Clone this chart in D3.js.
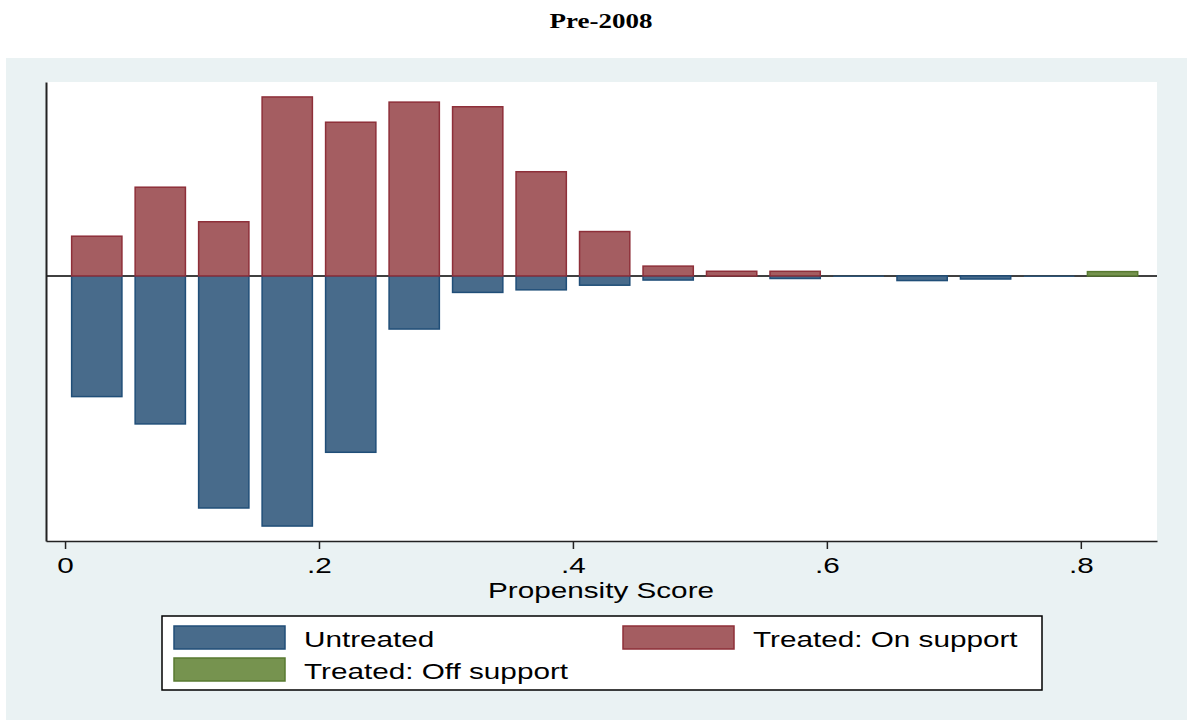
<!DOCTYPE html>
<html>
<head>
<meta charset="utf-8">
<script src="https://cdn.jsdelivr.net/npm/d3@7"></script>
<style>
  body { margin: 0; background: #fff; }
  svg text { font-family: "Liberation Sans", Arial, sans-serif; fill: #000; }
</style>
</head>
<body>
<div id="chart"></div>
<script>
// histogram of propensity scores, treated above the line, untreated below
// bins are 0.05 wide, values are densities read off the picture
const binCenters = [0.025, 0.075, 0.125, 0.175, 0.225, 0.275, 0.325, 0.375, 0.425,
                    0.475, 0.525, 0.575, 0.625, 0.675, 0.725, 0.775, 0.825];
const treatedOn  = [0.77, 1.72, 1.05, 3.47, 2.98, 3.37, 3.28, 2.02, 0.86,
                    0.19, 0.09, 0.09, 0, 0, 0, 0, 0];
const treatedOff = [0, 0, 0, 0, 0, 0, 0, 0, 0,
                    0, 0, 0, 0, 0, 0, 0, 0.083];
const untreated  = [2.34, 2.87, 4.50, 4.85, 3.42, 1.03, 0.32, 0.27, 0.18,
                    0.08, 0, 0.05, 0.015, 0.09, 0.06, 0.015, 0];
const xTicks = [0, 0.2, 0.4, 0.6, 0.8];
const xTickLabels = ["0", ".2", ".4", ".6", ".8"];
const legendLabels = ["Untreated", "Treated: On support", "Treated: Off support"];

const width = 1187, height = 720;
const plot = { left: 46, right: 1157, top: 82, bottom: 541 };
const barW = 0.0396;
const stretch = 1.35; // the original text is drawn wide

const colors = {
  untreated: { fill: "#486b8b", stroke: "#204e78" },
  on:        { fill: "#a45d61", stroke: "#8e2f39" },
  off:       { fill: "#76934f", stroke: "#587a30" }
};

const svg = d3.select("#chart").append("svg")
  .attr("width", width)
  .attr("height", height);

function wideText(g, tx, ty, anchor, size, str) {
  return g.append("text")
    .attr("transform", "translate(" + tx + "," + ty + ") scale(" + stretch + ",1)")
    .attr("text-anchor", anchor)
    .style("font-size", size + "px")
    .text(str);
}

// title
wideText(svg, 601, 28, "middle", 20, "Pre-2008")
  .style("font-family", "'Liberation Serif', 'Times New Roman', serif")
  .style("font-weight", "bold");

// graph region
svg.append("rect")
  .attr("x", 6).attr("y", 58)
  .attr("width", width - 6).attr("height", height - 58)
  .attr("fill", "#eaf2f3");

svg.append("rect")
  .attr("x", plot.left).attr("y", plot.top)
  .attr("width", plot.right - plot.left).attr("height", plot.bottom - plot.top)
  .attr("fill", "#fff");

const x = d3.scaleLinear().domain([-0.015, 0.86]).range([plot.left, plot.right]);
const y = d3.scaleLinear().domain([-5.14, 3.76]).range([plot.bottom, plot.top]);

// zero line
svg.append("line")
  .attr("x1", plot.left).attr("x2", plot.right)
  .attr("y1", y(0)).attr("y2", y(0))
  .attr("stroke", "#000").attr("stroke-width", 1.5);

function drawBars(vals, sign, col) {
  svg.append("g").selectAll("rect")
    .data(vals.map((v, i) => ({ c: binCenters[i], v: v })).filter(d => d.v > 0))
    .enter().append("rect")
    .attr("x", d => x(d.c - barW / 2))
    .attr("width", d => x(d.c + barW / 2) - x(d.c - barW / 2))
    .attr("y", d => sign > 0 ? y(d.v) : y(0))
    .attr("height", d => Math.abs(y(0) - y(d.v)))
    .attr("fill", col.fill)
    .attr("stroke", col.stroke)
    .attr("stroke-width", d => Math.abs(y(0) - y(d.v)) < 2 ? 0.6 : 1.5);
}

drawBars(untreated, -1, colors.untreated);
drawBars(treatedOn, 1, colors.on);
drawBars(treatedOff, 1, colors.off);

// axes
const xAxis = d3.axisBottom(x)
  .tickValues(xTicks)
  .tickFormat((d, i) => xTickLabels[i])
  .tickSize(8)
  .tickSizeOuter(0)
  .tickPadding(6);

const gx = svg.append("g")
  .attr("transform", "translate(0," + plot.bottom + ")")
  .call(xAxis);
gx.select(".domain").attr("stroke", "#222").attr("stroke-width", 1.5);
gx.selectAll(".tick line").attr("stroke", "#222").attr("stroke-width", 1.5);
gx.selectAll(".tick text")
  .style("font-size", "22px")
  .attr("dy", "0.82em")
  .attr("transform", "scale(" + stretch + ",1)");

const gy = svg.append("g")
  .attr("transform", "translate(" + plot.left + ",0)")
  .call(d3.axisLeft(y).tickValues([]).tickSizeOuter(0));
gy.select(".domain").attr("stroke", "#222").attr("stroke-width", 2);

wideText(svg, 601, 598, "middle", 22, "Propensity Score");

// legend
const legend = svg.append("g");
legend.append("rect")
  .attr("x", 162).attr("y", 616)
  .attr("width", 880).attr("height", 74)
  .attr("fill", "#fff").attr("stroke", "#000").attr("stroke-width", 1.5);

const legendItems = [
  { label: legendLabels[0], col: colors.untreated, kx: 174, ky: 626 },
  { label: legendLabels[1], col: colors.on, kx: 623, ky: 626 },
  { label: legendLabels[2], col: colors.off, kx: 174, ky: 658 }
];

legendItems.forEach(d => {
  legend.append("rect")
    .attr("x", d.kx).attr("y", d.ky)
    .attr("width", 111).attr("height", 23)
    .attr("fill", d.col.fill).attr("stroke", d.col.stroke).attr("stroke-width", 1.5);
  wideText(legend, d.kx + 130, d.ky + 20.5, "start", 22, d.label);
});
</script>
</body>
</html>
